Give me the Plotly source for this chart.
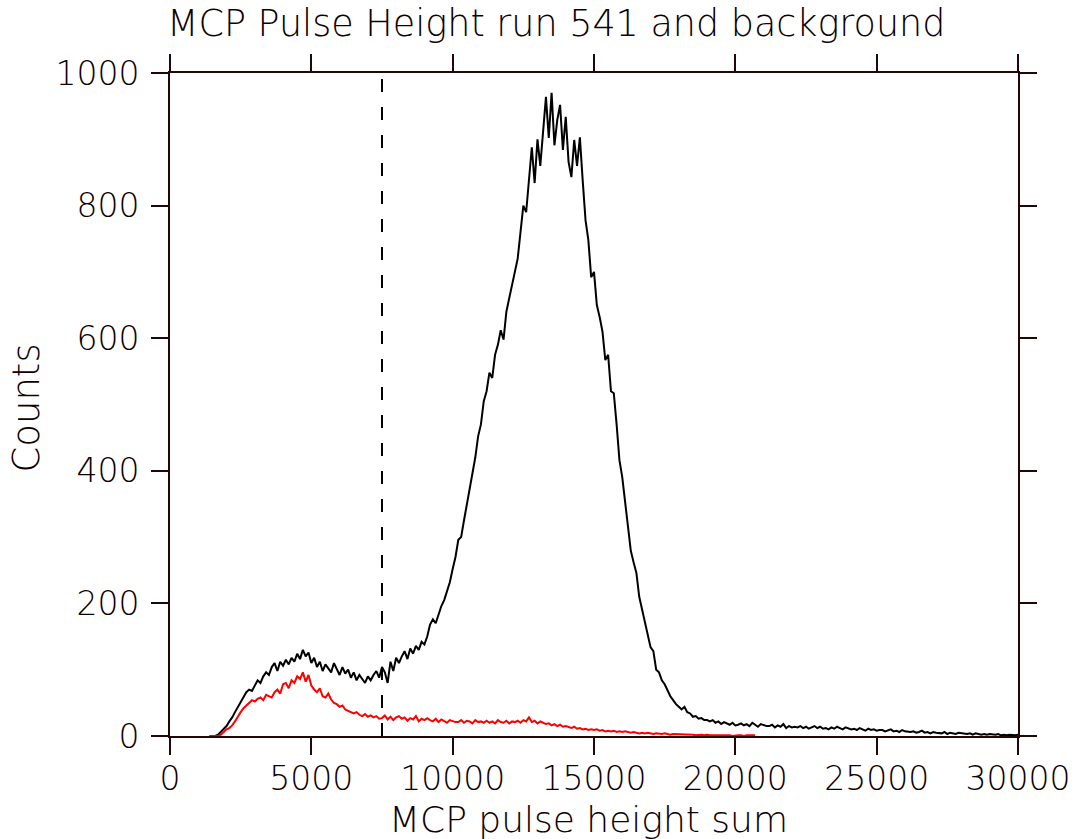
import plotly.graph_objects as go

# bin start positions (MCP pulse height sum), bin width 100, from 1400 upward
x_start = 1400
bin_width = 100

# Run 541 counts (black), bins from 1400
run541_counts = [
    0, 0, 0, 2, 6, 10, 15, 22,                                  # 1400-1999
    28, 36, 44, 52, 58, 66, 70, 68, 76, 84,                      # 2000-2999
    80, 90, 96, 92, 104, 110, 98, 112, 106, 115,                 # 3000-3999
    108, 118, 112, 124, 116, 130, 120, 126, 110, 118,            # 4000-4999
    104, 112, 98, 108, 102, 96, 110, 100, 92, 104,               # 5000-5999
    94, 100, 88, 96, 84, 92, 86, 80, 90, 84,                     # 6000-6999
    92, 98, 88, 104, 96, 80, 112, 98, 118, 110,                  # 7000-7999
    120, 128, 116, 132, 124, 136, 130, 142, 138, 150,            # 8000-8999
    168, 176, 170, 185, 196, 205, 220, 232, 252, 270,            # 9000-9999
    296, 300, 325, 350, 372, 400, 420, 452, 470, 505,            # 10000-10999
    520, 548, 540, 575, 590, 612, 598, 640, 660, 676,            # 11000-11999
    700, 720, 760, 800, 790, 843, 888, 834, 900, 860,            # 12000-12999
    915, 964, 902, 970, 891, 929, 952, 884, 934, 866,            # 13000-13999
    843, 899, 860, 903, 838, 778, 748, 692, 700, 650,            # 14000-14999
    632, 610, 567, 575, 520, 517, 470, 416, 390, 356,            # 15000-15999
    320, 280, 262, 246, 210, 190, 172, 150, 134, 128,            # 16000-16999
    100, 96, 84, 78, 69, 60, 54, 48, 44, 40,                     # 17000-17999
    44, 36, 34, 29, 30, 26, 27, 24, 24, 22,                      # 18000-18999
    24, 20, 22, 18, 21, 19, 17, 20, 16, 17,                      # 19000-19999
    19, 16, 18, 15, 20, 17, 14, 18, 16, 15,                      # 20000-20999
    15, 17, 13, 16, 14, 18, 12, 15, 13, 14,                      # 21000-21999
    13, 15, 12, 14, 11, 13, 15, 12, 14, 11,                      # 22000-22999
    12, 10, 13, 11, 14, 12, 10, 13, 11, 10,                      # 23000-23999
    11, 9, 12, 10, 8, 11, 9, 10, 8, 9,                           # 24000-24999
    9, 7, 8, 10, 7, 8, 6, 9, 7, 6,                               # 25000-25999
    6, 7, 5, 6, 8, 5, 6, 4, 6, 5,                                # 26000-26999
    5, 4, 6, 3, 5, 4, 3, 5, 4, 3,                                # 27000-27999
    3, 4, 2, 4, 3, 2, 3, 2, 3, 2,                                # 28000-28999
    2, 3, 1, 2, 1, 2, 1, 1, 2, 1,                                # 29000-29999
]

# Background counts (red), bins from 1400
background_counts = [
    0, 0, 0, 0, 2, 6, 10, 12,                                    # 1400-1999
    16, 22, 30, 36, 42, 46, 50, 54, 52, 56,                      # 2000-2999
    58, 54, 62, 60, 58, 66, 70, 64, 78, 80,                      # 3000-3999
    72, 84, 80, 90, 86, 96, 82, 92, 76, 70,                      # 4000-4999
    66, 72, 60, 58, 64, 55, 50, 48, 44, 46,                      # 5000-5999
    40, 38, 36, 34, 36, 32, 30, 33, 29, 31,                      # 6000-6999
    28, 30, 26, 27, 31, 25, 29, 24, 28, 30,                      # 7000-7999
    26, 28, 23, 27, 25, 30, 22, 26, 24, 27,                      # 8000-8999
    24, 22, 26, 21, 25, 23, 20, 24, 22, 21,                      # 9000-9999
    21, 24, 20, 23, 22, 19, 24, 21, 22, 20,                      # 10000-10999
    23, 20, 22, 19, 24, 21, 20, 23, 19, 22,                      # 11000-11999
    21, 23, 20, 24, 22, 28, 21, 23, 19, 22,                      # 12000-12999
    20, 18, 19, 16, 18, 15, 17, 14, 15, 13,                      # 13000-13999
    12, 14, 11, 12, 10, 11, 9, 10, 9, 10,                        # 14000-14999
    8, 9, 7, 8, 7, 8, 6, 7, 6, 7,                                # 15000-15999
    6, 5, 6, 5, 4, 5, 4, 5, 4, 3,                                # 16000-16999
    4, 3, 3, 4, 3, 2, 3, 3, 2, 3,                                # 17000-17999
    2, 2, 3, 2, 1, 2, 2, 1, 2, 1,                                # 18000-18999
    1, 2, 1, 1, 2, 1, 1, 0, 1, 1,                                # 19000-19999
    1, 0, 1, 1, 0, 1,                                            # 20000-20599
]

cut_value = 7500
x_ticks = [0, 5000, 10000, 15000, 20000, 25000, 30000]
y_ticks = [0, 200, 400, 600, 800, 1000]

title_text = "MCP Pulse Height run 541 and background"
x_title = "MCP pulse height sum"
y_title = "Counts"

x_run = [x_start + i * bin_width for i in range(len(run541_counts))]
x_bg = [x_start + i * bin_width for i in range(len(background_counts))]

axis_color = "#200808"
text_color = "#0c0000"
font_family = "DejaVu Sans"
font_weight = 200

fig = go.Figure()
fig.add_trace(go.Scatter(x=x_run, y=run541_counts, mode="lines",
                         line=dict(color="black", width=2), showlegend=False))
fig.add_trace(go.Scatter(x=x_bg, y=background_counts, mode="lines",
                         line=dict(color="#ff0000", width=2), showlegend=False))

fig.add_shape(type="line", x0=cut_value, x1=cut_value, y0=0, y1=1,
              xref="x", yref="paper",
              line=dict(color="black", width=2, dash="13px,15px"))

axis_common = dict(showline=True, linecolor=axis_color, linewidth=2,
                   mirror="ticks", ticks="outside", ticklen=17, tickwidth=2,
                   tickcolor=axis_color, showgrid=False, zeroline=False,
                   automargin=False,
                   tickfont=dict(family=font_family, size=33, color=text_color,
                                 weight=font_weight))

fig.update_xaxes(range=[0, 30000], tickvals=x_ticks,
                 ticktext=[str(v) for v in x_ticks], ticklabelstandoff=-5,
                 **axis_common)
fig.update_yaxes(range=[0, 1000], tickvals=y_ticks,
                 ticktext=[str(v) for v in y_ticks], ticklabelstandoff=5,
                 **axis_common)

fig.add_annotation(text=title_text, xref="paper", yref="paper",
                   x=0.455, y=1.074, xanchor="center", yanchor="middle",
                   showarrow=False,
                   font=dict(family=font_family, size=36.5, color=text_color,
                             weight=font_weight))
fig.add_annotation(text=x_title, xref="paper", yref="paper",
                   x=0.494, y=-0.126, xanchor="center", yanchor="middle",
                   showarrow=False,
                   font=dict(family=font_family, size=36, color=text_color,
                             weight=font_weight))
fig.add_annotation(text=y_title, xref="paper", yref="paper",
                   x=-0.169, y=0.495, xanchor="center", yanchor="middle",
                   textangle=-90, showarrow=False,
                   font=dict(family=font_family, size=37, color=text_color,
                             weight=font_weight))

fig.update_layout(width=1075, height=839, plot_bgcolor="white",
                  paper_bgcolor="white",
                  margin=dict(l=170, r=57, t=73, b=103, pad=0))

fig.write_html("out.html")
